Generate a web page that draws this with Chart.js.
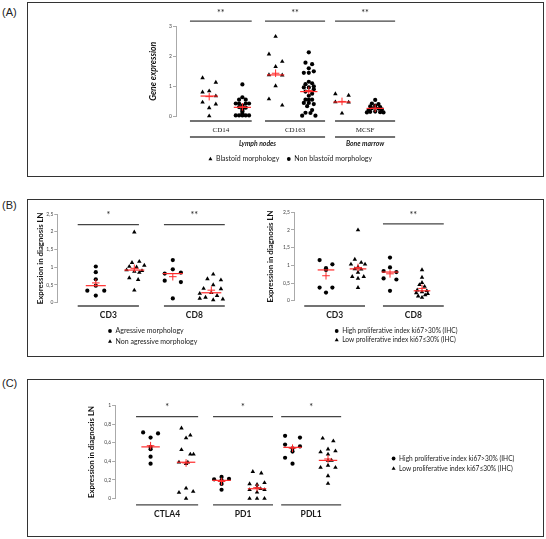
<!DOCTYPE html>
<html>
<head>
<meta charset="utf-8">
<script src="https://cdn.jsdelivr.net/npm/chart.js@4.4.1/dist/chart.umd.min.js"></script>
<style>
html, body { margin: 0; padding: 0; background: #fff; }
#page { position: relative; width: 546px; height: 539px; overflow: hidden; font-family: 'Liberation Sans', Arial, sans-serif; }
.box { position: absolute; border: 1.5px solid #333; box-sizing: border-box; }
.tag { position: absolute; font-size: 11px; color: #222; line-height: 12px; }
canvas { position: absolute; left: 0; top: 0; }
</style>
</head>
<body>
<div id="page">
  <div class="tag" style="left:2px;top:6px">(A)</div>
  <div class="box" style="left:27px;top:2px;width:517px;height:175px"></div>
  <div class="tag" style="left:2px;top:199px">(B)</div>
  <div class="box" style="left:27px;top:199px;width:517px;height:158px"></div>
  <div class="tag" style="left:2px;top:377px">(C)</div>
  <div class="box" style="left:27px;top:379px;width:517px;height:158px"></div>
  <canvas id="chartA" width="546" height="539"></canvas>
  <canvas id="chartB1" width="546" height="539"></canvas>
  <canvas id="chartB2" width="546" height="539"></canvas>
  <canvas id="chartC" width="546" height="539"></canvas>
</div>
<script>
// ---- panel A : gene expression ----
const catsA = ['CD14', 'CD163', 'MCSF'];
const regionsA = ['Lymph nodes', 'Bone marrow'];
const legendA = ['Blastoïd morphology', 'Non blastoïd morphology'];
const ticksA = ['0', '1', '2', '3'];

const cd14Blast = [1.28, 1.13, 0.84, 0.80, 0.67, 0.46, 0.40, 0.27, 0.00];
const cd14BlastJit = [-0.2, 0.2, 0, -0.2, 0.2, -0.2, 0.2, 0, 0];
const cd14Non = [1.06, 0.63, 0.55, 0.55, 0.42, 0.42, 0.42, 0.42, 0.35, 0.30, 0.28, 0.25, 0.20, 0.15, 0.08, 0.02, 0.02, 0.02, 0.02, 0.02];
const cd14NonJit = [0, 0, -0.1, 0.1, -0.2, -0.1, 0.1, 0.2, 0, -0.1, 0.1, 0, 0, 0, 0, -0.2, -0.1, 0, 0.1, 0.2];
const cd163Blast = [2.67, 2.08, 1.83, 1.66, 1.38, 1.37, 1.01, 0.57, 0.36];
const cd163BlastJit = [0, -0.2, 0.2, 0, -0.2, 0.2, 0, -0.2, 0.2];
const cd163Non = [2.14, 1.79, 1.74, 1.60, 1.50, 1.45, 1.45, 1.15, 1.10, 1.07, 1.00, 0.96, 0.96, 0.90, 0.82, 0.75, 0.68, 0.55, 0.55, 0.55, 0.44, 0.44, 0.40, 0.33, 0.20, 0.11, 0.10, 0.01, 0.01];
const cd163NonJit = [0, -0.1, 0.1, 0, 0.15, -0.15, 0, 0, 0.1, -0.1, 0.15, -0.15, 0, 0.15, -0.1, 0.1, 0, -0.1, 0, 0.1, -0.15, 0, 0.15, -0.05, 0.1, -0.1, 0.05, -0.2, 0.2];
const mcsfBlast = [0.74, 0.69, 0.47, 0.46, 0.09];
const mcsfBlastJit = [-0.2, 0.2, -0.2, 0.2, 0];
const mcsfNon = [0.54, 0.42, 0.40, 0.35, 0.32, 0.30, 0.28, 0.26, 0.25, 0.22, 0.20, 0.15, 0.14, 0.13, 0.12, 0.12];
const mcsfNonJit = [0, -0.1, 0.1, 0, -0.15, 0.15, 0, -0.1, 0.1, 0.2, -0.2, 0, -0.15, 0.15, 0.25, -0.25];

// ---- panel B : T cells, morphology (left) and ki67 (right) ----
const catsB = ['CD3', 'CD8'];
const legendB1 = ['Agressive morphology', 'Non agressive morphology'];
const legendKi67 = ['High proliferative index ki67>30% (IHC)', 'Low proliferative index ki67≤30% (IHC)'];
const ticksB = ['0', '0,5', '1', '1,5', '2', '2,5'];
const yTitleLN = 'Expression in diagnosis LN';

const cd3Agr = [1.02, 0.86, 0.66, 0.48, 0.34, 0.34, 0.20];
const cd3AgrJit = [0, 0, 0, 0, -0.22, 0.22, 0];
const cd3NonAgr = [1.99, 1.16, 1.13, 1.05, 1.02, 1.00, 0.92, 0.90, 0.88, 0.85, 0.70, 0.65, 0.35];
const cd3NonAgrJit = [0, 0.13, -0.06, 0.26, -0.13, 0.06, -0.2, 0.2, 0, 0.13, -0.13, 0.1, 0];
const cd8Agr = [1.20, 0.94, 0.85, 0.82, 0.62, 0.58, 0.12];
const cd8AgrJit = [0, 0, 0.21, -0.21, -0.21, 0.21, 0];
const cd8NonAgr = [0.80, 0.67, 0.64, 0.50, 0.40, 0.39, 0.28, 0.26, 0.20, 0.15, 0.12, 0.10, 0.08];
const cd8NonAgrJit = [0.05, -0.1, 0.25, 0.05, -0.2, 0.25, 0, -0.3, 0.15, -0.15, -0.3, 0.3, 0.05];

const cd3High = [1.15, 1.03, 0.92, 0.87, 0.37, 0.37, 0.23];
const cd3HighJit = [-0.2, 0.2, 0, 0, -0.2, 0.2, 0];
const cd3Low = [2.00, 1.17, 1.08, 1.03, 1.03, 0.95, 0.90, 0.89, 0.80, 0.68, 0.68, 0.63, 0.37];
const cd3LowJit = [0, -0.1, 0.1, -0.22, 0.22, 0, -0.1, 0.1, 0, -0.18, 0.18, 0, 0];
const cd8High = [1.22, 0.94, 0.84, 0.81, 0.63, 0.60, 0.28];
const cd8HighJit = [0, 0, -0.2, 0.2, -0.2, 0.2, 0];
const cd8Low = [0.87, 0.66, 0.51, 0.45, 0.40, 0.30, 0.28, 0.25, 0.22, 0.20, 0.16, 0.13, 0.09];
const cd8LowJit = [0, 0, 0, -0.08, 0.08, -0.15, 0.15, 0, -0.18, 0.18, 0.1, -0.12, 0];

// ---- panel C : checkpoints, ki67 ----
const catsC = ['CTLA4', 'PD1', 'PDL1'];
const ticksC = ['0', '0,2', '0,4', '0,6', '0,8', '1'];

const ctla4High = [0.71, 0.70, 0.655, 0.555, 0.53, 0.45, 0.375];
const ctla4HighJit = [-0.21, 0.21, 0, 0, 0, 0, 0];
const ctla4Low = [0.757, 0.68, 0.65, 0.524, 0.476, 0.476, 0.39, 0.39, 0.375, 0.11, 0.075, 0.064, 0];
const ctla4LowJit = [-0.13, 0.12, 0, -0.13, 0.12, 0.21, -0.2, 0.05, 0, 0, 0.2, -0.2, 0];
const pd1High = [0.232, 0.21, 0.206, 0.195, 0.187, 0.157, 0.094];
const pd1HighJit = [0, 0.21, -0.21, 0, 0, 0, 0];
const pd1Low = [0.288, 0.273, 0.169, 0.157, 0.15, 0.12, 0.105, 0.094, 0.094, 0.067, 0, 0, 0];
const pd1LowJit = [-0.12, 0.12, 0.21, -0.21, 0, 0, 0.1, -0.21, 0.21, 0, -0.21, 0, 0.21];
const pdl1High = [0.674, 0.655, 0.58, 0.56, 0.54, 0.505, 0.438, 0.375];
const pdl1HighJit = [-0.21, 0.21, -0.21, 0.21, 0, 0, -0.21, 0];
const pdl1Low = [0.648, 0.618, 0.53, 0.51, 0.50, 0.476, 0.41, 0.41, 0.356, 0.333, 0.333, 0.243, 0.161];
const pdl1LowJit = [-0.15, 0.15, 0, 0.21, -0.21, 0, 0, 0.1, 0, -0.21, 0.21, 0, 0];

const RED = '#ff2a2a';
const INK = '#1a1a1a';

function mean(a) { return a.reduce((s, v) => s + v, 0) / a.length; }
function median(a) {
  const s = [...a].sort((p, q) => p - q);
  const m = s.length >> 1;
  return s.length % 2 ? s[m] : (s[m - 1] + s[m]) / 2;
}

// points + median bar + mean cross for one group
function group(x, vals, jit, shape) {
  const md = median(vals), mn = mean(vals);
  return [
    { data: vals.map((v, i) => ({ x: x + jit[i], y: v })), pointStyle: shape,
      pointRadius: shape === 'triangle' ? 2.6 : 2.1, backgroundColor: '#000', borderColor: '#000',
      borderWidth: 0, clip: false, order: 2 },
    { data: [{ x: x - 0.26, y: md }, { x: x + 0.26, y: md }], showLine: true, borderColor: RED,
      borderWidth: 1.2, pointRadius: 0, clip: false, order: 1 },
    { data: [{ x: x, y: mn }], pointStyle: 'cross', pointRadius: 3.8, borderColor: RED,
      borderWidth: 1, clip: false, order: 0 }
  ];
}

function marker(ctx, shape, x, y) {
  ctx.fillStyle = '#000';
  Chart.helpers.drawPoint(ctx, { pointStyle: shape, radius: shape === 'triangle' ? 2.3 : 1.9, borderWidth: 0, rotation: 0 }, x, y);
}

function notesPlugin(n) {
  return {
    id: 'notes',
    afterDraw(chart) {
      const { ctx, chartArea, scales: { x, y } } = chart;
      const hline = (x0, x1, yy) => { ctx.beginPath(); ctx.moveTo(x0, yy); ctx.lineTo(x1, yy); ctx.stroke(); };
      ctx.save();
      ctx.strokeStyle = '#444';
      ctx.lineWidth = 1.3;
      ctx.fillStyle = INK;
      ctx.textAlign = 'center';
      ctx.textBaseline = 'middle';
      n.spans.forEach((sp, i) => {
        const x0 = x.getPixelForValue(sp[0]), x1 = x.getPixelForValue(sp[1]), xc = (x0 + x1) / 2;
        if (n.stars[i]) {
          hline(x0, x1, y.getPixelForValue(n.sigY));
          ctx.font = '9px Lato';
          ctx.fillText(n.stars[i], xc, y.getPixelForValue(n.starY));
        }
        hline(x0, x1, chartArea.bottom + n.catLine);
        ctx.font = n.catFont;
        ctx.fillText(n.cats[i], xc, chartArea.bottom + n.catText);
      });
      (n.regions || []).forEach((sp, i) => {
        const x0 = x.getPixelForValue(sp[0]), x1 = x.getPixelForValue(sp[1]);
        hline(x0, x1, chartArea.bottom + n.regionLine);
        ctx.font = n.regionFont;
        ctx.fillText(n.regionNames[i], (x0 + x1) / 2, chartArea.bottom + n.regionText);
      });
      const lg = n.legend;
      ctx.font = lg.font;
      ctx.textAlign = 'left';
      if (lg.row) {
        const widths = lg.items.map(it => ctx.measureText(it[1]).width);
        const total = widths.reduce((a, w) => a + w + 8, 0) + (lg.items.length - 1) * lg.gap;
        let xx = lg.x - total / 2;
        lg.items.forEach((it, i) => {
          marker(ctx, it[0], xx + 2.5, lg.y);
          ctx.fillStyle = INK;
          ctx.fillText(it[1], xx + 8, lg.y);
          xx += 8 + widths[i] + lg.gap;
        });
      } else {
        lg.items.forEach((it, i) => {
          const yy = lg.y + i * lg.dy;
          marker(ctx, it[0], lg.x, yy);
          ctx.fillStyle = INK;
          ctx.fillText(it[1], lg.x + 5.5, yy);
        });
      }
      ctx.restore();
    }
  };
}

function scatterChart(id, sets, lay, yAxis, notes) {
  return new Chart(document.getElementById(id), {
    type: 'scatter',
    data: { datasets: sets },
    options: {
      responsive: false,
      animation: false,
      events: [],
      layout: { padding: lay.pad },
      plugins: { legend: { display: false }, tooltip: { enabled: false } },
      scales: {
        x: { type: 'linear', min: 0, max: lay.xMax, display: false },
        y: {
          min: 0, max: yAxis.max,
          ticks: { stepSize: yAxis.step, font: { family: 'Lato', size: 5 }, color: '#444', padding: 1,
                   callback: (v, i) => yAxis.labels[i] },
          grid: { drawOnChartArea: false, drawTicks: true, tickLength: 3, color: '#aaa' },
          border: { color: '#aaa', width: 1 },
          title: { display: true, text: yAxis.title, font: yAxis.titleFont, color: '#111', padding: 0 },
          afterFit: s => { s.width = lay.axisW; }
        }
      }
    },
    plugins: [notesPlugin(notes)]
  });
}

// panel A
scatterChart('chartA', [
  ...group(1, cd14Blast, cd14BlastJit, 'triangle'),
  ...group(2, cd14Non, cd14NonJit, 'circle'),
  ...group(3, cd163Blast, cd163BlastJit, 'triangle'),
  ...group(4, cd163Non, cd163NonJit, 'circle'),
  ...group(5, mcsfBlast, mcsfBlastJit, 'triangle'),
  ...group(6, mcsfNon, mcsfNonJit, 'circle')
], { pad: { left: 147.7, top: 26.7, right: 137.6, bottom: 423 }, axisW: 28.3, xMax: 7 },
{ max: 3, step: 1, labels: ticksA, title: 'Gene expression', titleFont: { family: 'Lato', size: 8.6, style: 'italic', weight: 'bold' } },
{ spans: [[0.42, 2.28], [2.68, 4.49], [4.79, 6.60]], cats: catsA, catFont: '7px "Liberation Serif"',
  stars: ['**', '**', '**'], sigY: 3.19, starY: 3.47, catLine: 5, catText: 14,
  regions: [[0.42, 4.49], [4.79, 6.60]], regionNames: regionsA, regionLine: 21, regionText: 27.5,
  regionFont: 'italic bold 6.8px Lato',
  legend: { row: true, x: 290, y: 159, gap: 7, font: '7px Lato', items: [['triangle', legendA[0]], ['circle', legendA[1]]] } });

// panel B, left
scatterChart('chartB1', [
  ...group(1, cd3Agr, cd3AgrJit, 'circle'),
  ...group(2, cd3NonAgr, cd3NonAgrJit, 'triangle'),
  ...group(3, cd8Agr, cd8AgrJit, 'circle'),
  ...group(4, cd8NonAgr, cd8NonAgrJit, 'triangle')
], { pad: { left: 35.8, top: 214, right: 296.2, bottom: 236.3 }, axisW: 21.5, xMax: 5 },
{ max: 2.5, step: 0.5, labels: ticksB, title: yTitleLN, titleFont: { family: 'Lato', size: 7.8, weight: 'bold' } },
{ spans: [[0.53, 2.12], [2.77, 4.35]], cats: catsB, catFont: 'bold 8.5px Lato',
  stars: ['*', '**'], sigY: 2.2, starY: 2.47, catLine: 3.3, catText: 13,
  legend: { x: 110, y: 331, dy: 10.5, font: '7px Lato', items: [['circle', legendB1[0]], ['triangle', legendB1[1]]] } });

// panel B, right
scatterChart('chartB2', [
  ...group(1, cd3High, cd3HighJit, 'circle'),
  ...group(2, cd3Low, cd3LowJit, 'triangle'),
  ...group(3, cd8High, cd8HighJit, 'circle'),
  ...group(4, cd8Low, cd8LowJit, 'triangle')
], { pad: { left: 265.6, top: 212.3, right: 92, bottom: 238.3 }, axisW: 28.4, xMax: 5 },
{ max: 2.5, step: 0.5, labels: ticksB, title: yTitleLN, titleFont: { family: 'Lato', size: 7.8, weight: 'bold' } },
{ spans: [[0.32, 2.22], [2.78, 4.68]], cats: catsB, catFont: 'bold 8.5px Lato',
  stars: ['', '**'], sigY: 2.17, starY: 2.43, catLine: 5.3, catText: 15,
  legend: { x: 336.7, y: 331, dy: 9, font: '6.6px Lato', items: [['circle', legendKi67[0]], ['triangle', legendKi67[1]]] } });

// panel C
scatterChart('chartC', [
  ...group(1, ctla4High, ctla4HighJit, 'circle'),
  ...group(2, ctla4Low, ctla4LowJit, 'triangle'),
  ...group(3, pd1High, pd1HighJit, 'circle'),
  ...group(4, pd1Low, pd1LowJit, 'triangle'),
  ...group(5, pdl1High, pdl1HighJit, 'circle'),
  ...group(6, pdl1Low, pdl1LowJit, 'triangle')
], { pad: { left: 87.2, top: 405.5, right: 182.5, bottom: 40.5 }, axisW: 27.9, xMax: 7 },
{ max: 1, step: 0.2, labels: ticksC, title: yTitleLN, titleFont: { family: 'Lato', size: 7.8, weight: 'bold' } },
{ spans: [[0.59, 2.34], [2.76, 4.45], [4.68, 6.37]], cats: catsC, catFont: 'bold 8.5px Lato',
  stars: ['*', '*', '*'], sigY: 0.88, starY: 0.98, catLine: 6.3, catText: 15.7,
  legend: { x: 393.6, y: 458.5, dy: 10, font: '6.6px Lato', items: [['circle', legendKi67[0]], ['triangle', legendKi67[1]]] } });
</script>
</body>
</html>
